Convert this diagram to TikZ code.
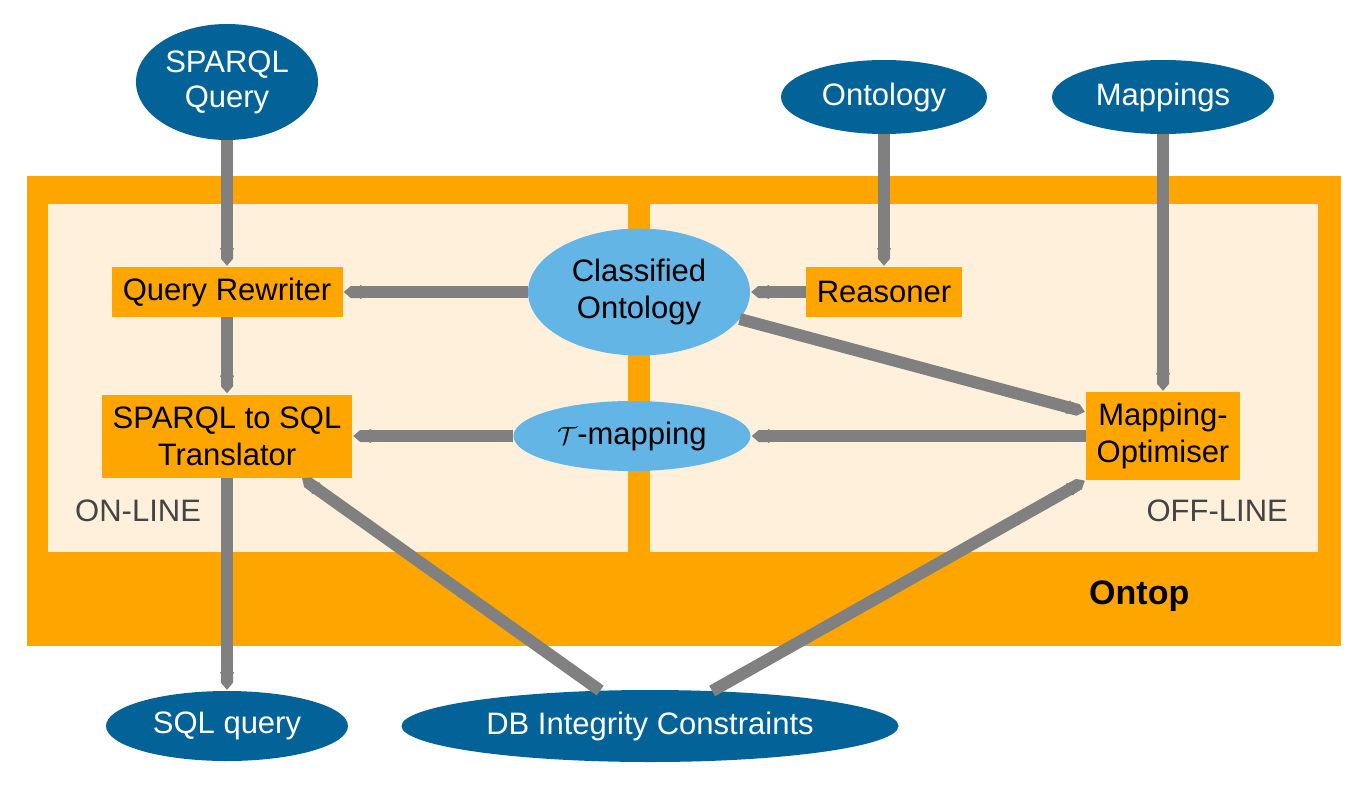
\documentclass[tikz,border=0pt]{standalone}
\usepackage{fontspec}
\setmainfont{Liberation Sans}
\usetikzlibrary{arrows.meta,shapes.geometric}
\definecolor{deepblue}{RGB}{3,99,153}
\definecolor{skyblue}{RGB}{99,181,229}
\definecolor{ontoporange}{RGB}{255,165,0}
\definecolor{cream}{RGB}{255,240,219}
\definecolor{flowgray}{RGB}{128,128,128}
\definecolor{tagtext}{RGB}{68,68,68}
\begin{document}
\begin{tikzpicture}[x=1pt, y=-1pt,
	box/.style = {fill=ontoporange, inner sep=0pt, align=center, font=\fontsize{31}{37}\selectfont},
	blob/.style = {ellipse, fill=deepblue, text=white, inner sep=0pt, align=center, font=\fontsize{31}{35}\selectfont},
	soft/.style = {ellipse, fill=skyblue, inner sep=0pt, align=center, font=\fontsize{31}{37}\selectfont},
	flow/.style = {draw=flowgray, line width=12pt, shorten >=1pt, -{Straight Barb[length=5pt,width=12pt,line width=3.5pt,sep=4pt]Triangle Cap[length=7pt]}},
	tag/.style = {text=tagtext, inner sep=0pt, font=\fontsize{31}{37}\selectfont}]
		\useasboundingbox (0,0) rectangle (1364,790);
		
		\coordinate (outerA) at (27,176);
		\coordinate (outerB) at (1341,646);
		\coordinate (onA) at (48,204);
		\coordinate (onB) at (628,552);
		\coordinate (offA) at (650,204);
		\coordinate (offB) at (1318,552);
		
		\fill[ontoporange] (outerA) rectangle (outerB);
		\fill[cream] (onA) rectangle (onB);
		\fill[cream] (offA) rectangle (offB);
		
		\node[blob, minimum width=182pt, minimum height=116pt] (sq) at (227,82) {SPARQL\\Query};
		\node[blob, minimum width=206pt, minimum height=74pt] (onto) at (884,97) {Ontology};
		\node[blob, minimum width=222pt, minimum height=74pt] (map) at (1163,97) {Mappings};
		\node[blob, minimum width=242pt, minimum height=70pt] (sql) at (227,726) {SQL query};
		\node[blob, minimum width=497pt, minimum height=72pt] (db) at (650,726) {DB Integrity Constraints};
		
		\node[soft, minimum width=222pt, minimum height=127pt] (co) at (639,292) {Classified\\Ontology};
		\node[soft, minimum width=237pt, minimum height=70pt] (tm) at (632,436) {$\mathcal{T}$-mapping};
		
		\node[box, minimum width=231pt, minimum height=50pt] (qr) at (227,292) {Query Rewriter};
		\node[box, minimum width=250pt, minimum height=83pt] (tr) at (227,436) {SPARQL to SQL\\Translator};
		\node[box, minimum width=156pt, minimum height=50pt] (rs) at (884,292) {Reasoner};
		\node[box, minimum width=154pt, minimum height=88pt] (mo) at (1163,436) {Mapping-\\Optimiser};
		
		\node[tag, anchor=base west] (online) at (75,521) {ON-LINE};
		\node[tag, anchor=base east] (offline) at (1288,521) {OFF-LINE};
		\node[anchor=base west, inner sep=0pt, font=\fontsize{34}{40}\selectfont\bfseries] (ontop) at (1089,604) {Ontop};
		
		\draw[flow] (sq) -- (qr);
		\draw[flow] (qr) -- (tr);
		\draw[flow] (tr) -- (sql);
		\draw[flow] (co) -- (qr);
		\draw[flow] (rs) -- (co);
		\draw[flow] (onto) -- (rs);
		\draw[flow] (map) -- (mo);
		\draw[flow] (co) -- ([yshift=24pt]mo.west);
		\draw[flow] (mo) -- (tm);
		\draw[flow] (tm) -- (tr);
		\draw[flow] (db) -- ([xshift=-51pt]tr.south east);
		\draw[flow] (db) -- (mo.south west);
	\end{tikzpicture}
\end{document}
